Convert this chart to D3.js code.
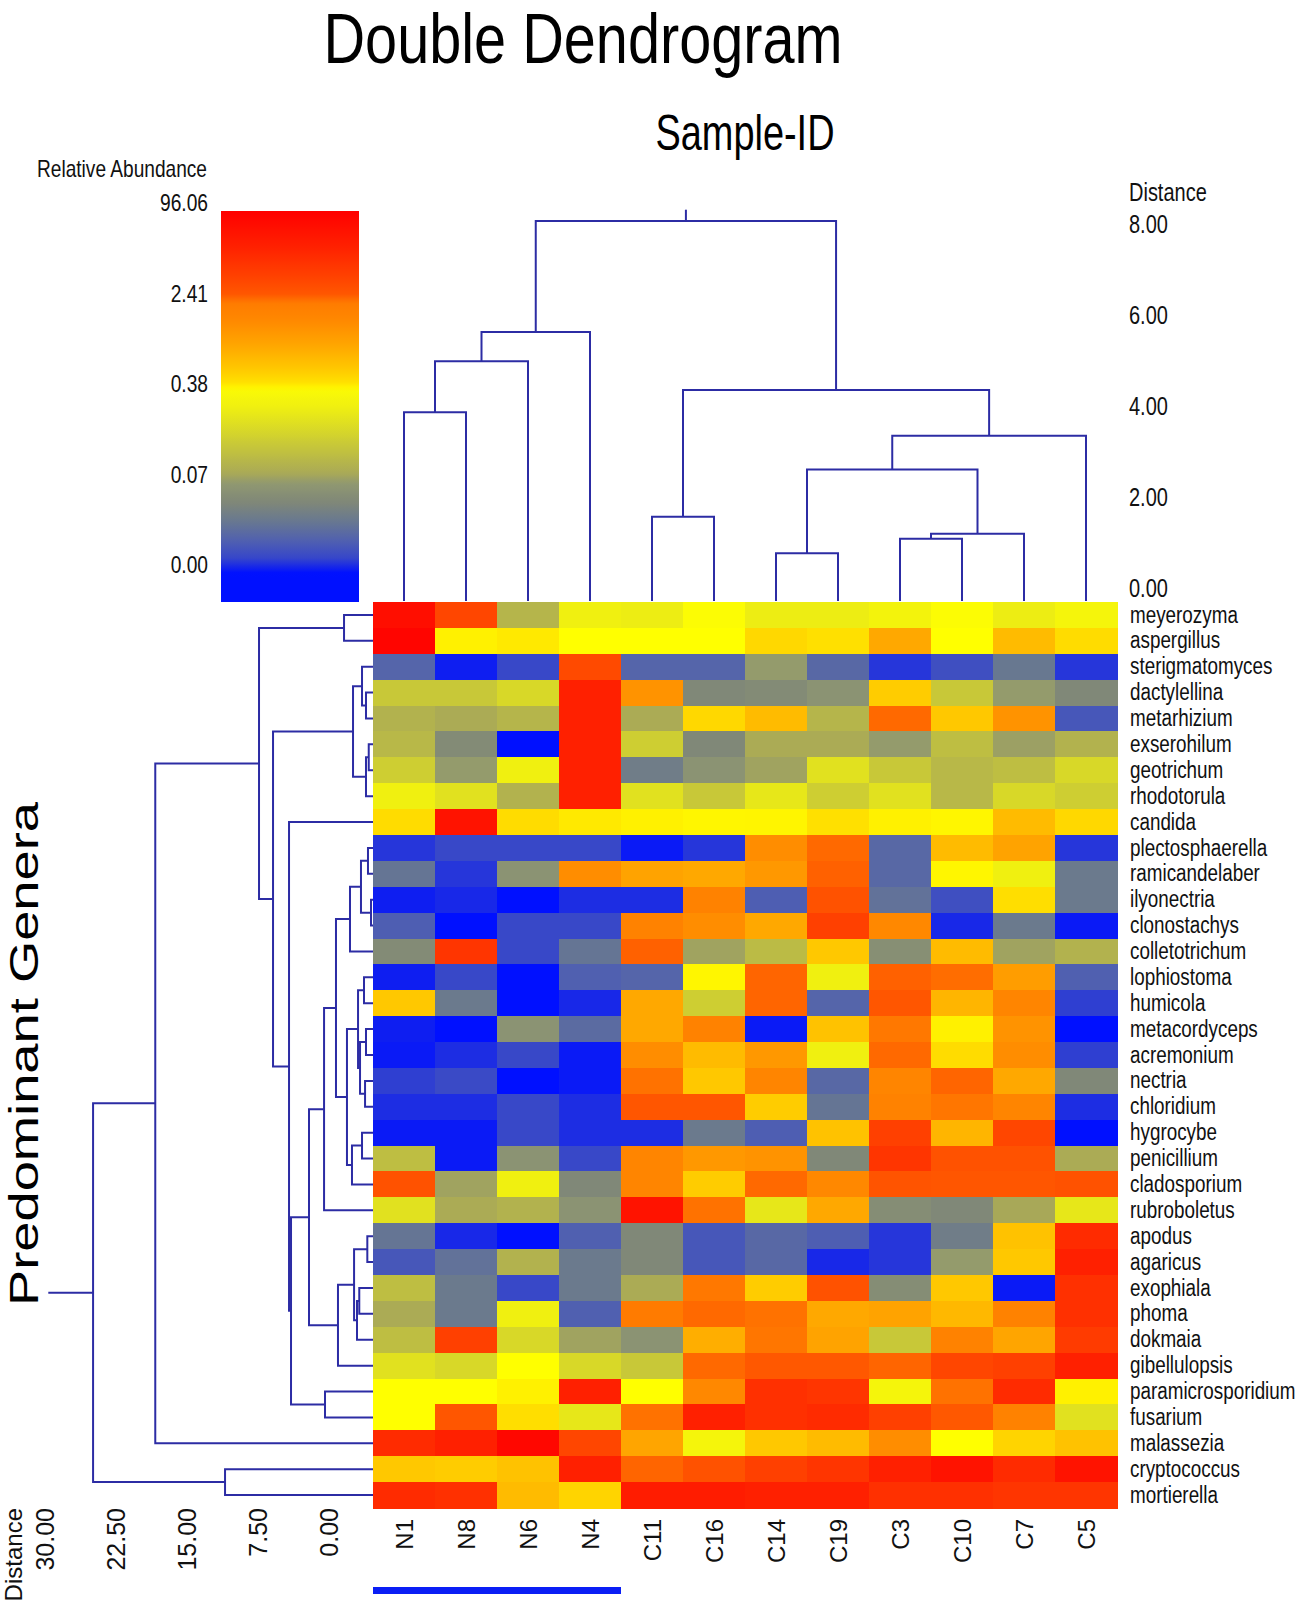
<!DOCTYPE html>
<html>
<head>
<meta charset="utf-8">
<script src="https://cdn.jsdelivr.net/npm/d3@7"></script>
<style>
  body { margin: 0; background: #fff; }
  svg { display: block; font-family: "Liberation Sans", Arial, sans-serif; }
</style>
</head>
<body>
<svg id="chart" width="1299" height="1611"></svg>
<script>
// ---------------- DATA ----------------
const samples = ["N1","N8","N6","N4","C11","C16","C14","C19","C3","C10","C7","C5"];

const genera = ["meyerozyma","aspergillus","sterigmatomyces","dactylellina","metarhizium",
  "exserohilum","geotrichum","rhodotorula","candida","plectosphaerella","ramicandelaber",
  "ilyonectria","clonostachys","colletotrichum","lophiostoma","humicola","metacordyceps",
  "acremonium","nectria","chloridium","hygrocybe","penicillium","cladosporium","rubroboletus",
  "apodus","agaricus","exophiala","phoma","dokmaia","gibellulopsis","paramicrosporidium",
  "fusarium","malassezia","cryptococcus","mortierella"];

// relative abundance (%) per genus (rows) and sample (columns, order = samples)
const abundance = [
  [80, 25, 0.14, 0.33, 0.32, 0.40, 0.32, 0.32, 0.35, 0.40, 0.32, 0.36],
  [90, 0.5, 0.55, 0.42, 0.42, 0.42, 0.7, 0.6, 1.4, 0.42, 1.1, 0.65],
  [0.028, 0.003, 0.012, 22, 0.028, 0.028, 0.075, 0.03, 0.008, 0.016, 0.04, 0.008],
  [0.2, 0.2, 0.25, 60, 1.8, 0.055, 0.058, 0.065, 0.85, 0.2, 0.075, 0.055],
  [0.13, 0.11, 0.14, 60, 0.11, 0.7, 1.1, 0.14, 6, 0.9, 1.8, 0.02],
  [0.15, 0.058, 0, 60, 0.22, 0.055, 0.11, 0.11, 0.075, 0.17, 0.085, 0.13],
  [0.22, 0.075, 0.33, 60, 0.045, 0.065, 0.09, 0.28, 0.2, 0.15, 0.17, 0.25],
  [0.33, 0.28, 0.13, 60, 0.28, 0.2, 0.3, 0.22, 0.28, 0.15, 0.25, 0.22],
  [0.65, 75, 0.65, 0.55, 0.5, 0.47, 0.48, 0.6, 0.5, 0.47, 1.1, 0.7],
  [0.008, 0.012, 0.012, 0.012, 0.002, 0.008, 1.9, 6, 0.03, 1.1, 1.5, 0.008],
  [0.038, 0.008, 0.065, 1.9, 1.5, 1.4, 1.7, 8, 0.03, 0.47, 0.33, 0.042],
  [0.003, 0.005, 0, 0.006, 0.006, 2.2, 0.024, 15, 0.036, 0.016, 0.62, 0.042],
  [0.024, 0, 0.012, 0.012, 2.2, 1.9, 1.4, 30, 2.0, 0.005, 0.042, 0.002],
  [0.058, 40, 0.012, 0.038, 8, 0.09, 0.16, 0.9, 0.062, 1.1, 0.09, 0.13],
  [0.003, 0.012, 0, 0.025, 0.028, 0.47, 7, 0.33, 8, 5, 1.6, 0.025],
  [0.9, 0.042, 0, 0.005, 1.4, 0.22, 7, 0.028, 12, 1.2, 2.1, 0.01],
  [0.003, 0, 0.065, 0.032, 1.4, 2.2, 0.002, 1.0, 2.5, 0.5, 1.8, 0],
  [0.002, 0.006, 0.012, 0.002, 1.9, 1.1, 1.7, 0.33, 6, 0.65, 1.9, 0.01],
  [0.01, 0.013, 0, 0.002, 4, 0.9, 2.1, 0.03, 2.1, 7, 1.4, 0.055],
  [0.006, 0.006, 0.012, 0.006, 12, 12, 0.85, 0.038, 2.2, 3, 2.1, 0.006],
  [0.002, 0.002, 0.012, 0.006, 0.006, 0.042, 0.024, 1.0, 30, 1.2, 25, 0],
  [0.17, 0.002, 0.065, 0.012, 2.1, 1.7, 1.8, 0.055, 40, 15, 15, 0.11],
  [15, 0.09, 0.33, 0.055, 2.1, 0.85, 6, 2.0, 13, 12, 12, 15],
  [0.28, 0.11, 0.13, 0.065, 75, 4, 0.3, 1.4, 0.06, 0.055, 0.1, 0.3],
  [0.038, 0.005, 0, 0.025, 0.055, 0.02, 0.03, 0.024, 0.008, 0.045, 1.0, 50],
  [0.02, 0.036, 0.13, 0.042, 0.055, 0.02, 0.03, 0.005, 0.008, 0.075, 0.9, 60],
  [0.17, 0.042, 0.012, 0.042, 0.11, 2.5, 0.85, 15, 0.06, 0.9, 0.002, 45],
  [0.11, 0.042, 0.33, 0.025, 2.4, 6, 4, 1.4, 1.5, 1.15, 2.2, 45],
  [0.17, 30, 0.25, 0.09, 0.065, 1.3, 3, 1.5, 0.2, 2.2, 1.45, 35],
  [0.28, 0.25, 0.42, 0.25, 0.2, 6, 10, 10, 7, 25, 30, 60],
  [0.42, 0.42, 0.5, 60, 0.42, 2.0, 45, 40, 0.36, 4, 50, 0.5],
  [0.42, 12, 0.62, 0.3, 4, 60, 45, 50, 30, 10, 2.2, 0.28],
  [50, 60, 88, 25, 1.45, 0.36, 0.9, 1.1, 1.9, 0.42, 0.75, 1.0],
  [0.9, 0.85, 1.0, 60, 7, 15, 30, 40, 60, 75, 50, 75],
  [50, 45, 1.1, 0.75, 65, 65, 60, 60, 45, 45, 40, 40]
];

// sample (column) clustering: [left, right, distance, id]
const sampleMerges = [
  ["N1","N8",4.15,"a"], ["a","N6",5.27,"b"], ["b","N4",5.91,"c"],
  ["C11","C16",1.85,"d"], ["C14","C19",1.05,"e"], ["C3","C10",1.37,"f"],
  ["f","C7",1.48,"g"], ["e","g",2.89,"h"], ["h","C5",3.63,"i"],
  ["d","i",4.64,"j"], ["c","j",8.35,"root"]
];
const sampleRootTop = 8.6;

// genus (row) clustering: [top, bottom, distance, id]
const generaMerges = [
  ["meyerozyma","aspergillus",3.06,"r1"],
  ["dactylellina","metarhizium",0.74,"r2"], ["sterigmatomyces","r2",1.16,"r3"],
  ["exserohilum","geotrichum",0.45,"r4"], ["r4","rhodotorula",0.74,"r5"], ["r3","r5",2.11,"r6"],
  ["plectosphaerella","ramicandelaber",0.53,"r7"], ["ilyonectria","clonostachys",0.21,"r8"],
  ["r7","r8",1.27,"r9"], ["r9","colletotrichum",2.43,"r10"],
  ["lophiostoma","humicola",0.95,"r11"], ["metacordyceps","acremonium",0.74,"r12"],
  ["nectria","chloridium",0.84,"r13"], ["r12","r13",1.37,"r14"], ["r11","r14",1.58,"r15"],
  ["hygrocybe","penicillium",1.16,"r16"], ["r16","cladosporium",2.22,"r17"], ["r15","r17",2.75,"r18"],
  ["r10","r18",3.91,"r19"], ["r19","rubroboletus",5.17,"r20"],
  ["apodus","agaricus",0.6,"r21"], ["exophiala","phoma",1.45,"r22"], ["r22","dokmaia",1.69,"r23"],
  ["r21","r23",2.0,"r24"], ["r24","gibellulopsis",3.70,"r25"],
  ["r20","r25",6.76,"r26"], ["paramicrosporidium","fusarium",5.07,"r27"],
  ["r26","r27",8.66,"r28"], ["candida","r28",8.87,"r29"], ["r6","r29",10.56,"r30"],
  ["r1","r30",12.04,"r31"], ["r31","malassezia",23.0,"r32"],
  ["cryptococcus","mortierella",15.63,"r33"], ["r32","r33",29.57,"r34"]
];
const generaRootEnd = 34.3;

const legendTicks = [0.00, 0.07, 0.38, 2.41, 96.06];
const sampleDistTicks = [0, 2, 4, 6, 8];
const generaDistTicks = [0, 7.5, 15, 22.5, 30];
const groupBar = ["N1","N4"];

const colorValues = [0, 0.005, 0.012, 0.025, 0.04, 0.055, 0.07, 0.1, 0.15, 0.25, 0.33, 0.42, 0.6, 0.9, 1.4, 2.0, 2.5, 10, 30, 60, 96.06];
const colorRange = ["#0010ff","#1828e8","#3848c8","#5060b0","#687890","#808878","#909870","#a8a858",
  "#b8b848","#d8d828","#f0f010","#ffff00","#ffe000","#ffc800","#ffa800","#ff8800","#ff7800",
  "#ff5800","#ff4000","#ff2000","#ff0000"];

// ---------------- CHART ----------------
const svg = d3.select("#chart");
const lineColor = "#2c2ca4";

const x = d3.scaleBand().domain(samples).range([373, 1117]);
const y = d3.scaleBand().domain(genera).range([602, 1508]);
const color = d3.scaleLinear().domain(colorValues).range(colorRange).clamp(true);
const colDist = d3.scaleLinear().domain([0, 8]).range([601, 237]);
const rowDist = d3.scaleLinear().domain([0, 30]).range([373, 89]);
const legendPos = d3.scaleLinear().domain(legendTicks).range([573, 483, 392, 302, 211]);

// heatmap
const cells = [];
genera.forEach((g, i) => samples.forEach((s, j) => cells.push({g, s, v: abundance[i][j]})));
svg.append("g").selectAll("rect").data(cells).join("rect")
  .attr("x", d => x(d.s)).attr("y", d => y(d.g))
  .attr("width", x.bandwidth() + 0.5).attr("height", y.bandwidth() + 0.5)
  .attr("fill", d => color(d.v))
  .attr("shape-rendering", "crispEdges");

// column dendrogram
const colNodes = new Map();
samples.forEach(s => colNodes.set(s, {p: x(s) + x.bandwidth() / 2, h: 0}));
sampleMerges.forEach(([a, b, h, id]) => colNodes.set(id, {p: (colNodes.get(a).p + colNodes.get(b).p) / 2, h}));
const colG = svg.append("g").attr("fill", "none").attr("stroke", lineColor).attr("stroke-width", 2);
sampleMerges.forEach(([a, b, h]) => {
  const A = colNodes.get(a), B = colNodes.get(b);
  colG.append("path").attr("d",
    `M${A.p},${colDist(A.h)}V${colDist(h)}H${B.p}V${colDist(B.h)}`);
});
const colRoot = colNodes.get("root");
colG.append("path").attr("d", `M${colRoot.p},${colDist(colRoot.h)}V${colDist(sampleRootTop)}`);

// row dendrogram
const rowNodes = new Map();
genera.forEach(g => rowNodes.set(g, {p: y(g) + y.bandwidth() / 2, h: 0}));
generaMerges.forEach(([a, b, h, id]) => rowNodes.set(id, {p: (rowNodes.get(a).p + rowNodes.get(b).p) / 2, h}));
const rowG = svg.append("g").attr("fill", "none").attr("stroke", lineColor).attr("stroke-width", 2);
generaMerges.forEach(([a, b, h]) => {
  const A = rowNodes.get(a), B = rowNodes.get(b);
  rowG.append("path").attr("d",
    `M${rowDist(A.h)},${A.p}H${rowDist(h)}V${B.p}H${rowDist(B.h)}`);
});
const rowRoot = rowNodes.get("r34");
rowG.append("path").attr("d", `M${rowDist(rowRoot.h)},${rowRoot.p}H${rowDist(generaRootEnd)}`);

// row labels
svg.append("g").selectAll("text").data(genera).join("text")
  .attr("transform", d => `translate(1130,${y(d) + y.bandwidth() / 2}) scale(0.82,1)`)
  .attr("dy", "0.33em")
  .attr("font-size", 23).attr("fill", "#111")
  .text(d => d);

// column labels
svg.append("g").selectAll("text").data(samples).join("text")
  .attr("transform", d => `translate(${x(d) + x.bandwidth() / 2},1519) rotate(-90)`)
  .attr("text-anchor", "end").attr("dy", "0.36em")
  .attr("font-size", 24).attr("fill", "#111")
  .text(d => d);

// N group bar
svg.append("rect")
  .attr("x", x(groupBar[0])).attr("y", 1587)
  .attr("width", x(groupBar[1]) + x.bandwidth() - x(groupBar[0])).attr("height", 7)
  .attr("fill", "#0a1ef5");

// column distance axis
svg.append("text").attr("transform", "translate(1129,201) scale(0.8,1)")
  .attr("font-size", 25).attr("fill", "#111").text("Distance");
svg.append("g").selectAll("text").data(sampleDistTicks).join("text")
  .attr("transform", d => `translate(1129,${colDist(d) - 4}) scale(0.8,1)`)
  .attr("font-size", 25).attr("fill", "#111")
  .text(d => d.toFixed(2));

// row distance axis
svg.append("g").selectAll("text").data(generaDistTicks).join("text")
  .attr("transform", d => `translate(${rowDist(d) - 44},1508) rotate(-90)`)
  .attr("text-anchor", "end").attr("dy", "0.36em")
  .attr("font-size", 25).attr("fill", "#111")
  .text(d => d.toFixed(2));
svg.append("text").attr("transform", "translate(13,1508) rotate(-90)")
  .attr("text-anchor", "end").attr("dy", "0.36em")
  .attr("font-size", 24).attr("fill", "#111").text("Distance");

// legend
const defs = svg.append("defs");
const grad = defs.append("linearGradient").attr("id", "legendGrad")
  .attr("x1", 0).attr("y1", 0).attr("x2", 0).attr("y2", 1);
const lgTop = 211, lgBot = 602;
d3.range(0, 81).forEach(k => {
  const yy = lgTop + (lgBot - lgTop) * k / 80;
  const v = legendPos.invert(Math.min(Math.max(yy, 211), 573));
  grad.append("stop").attr("offset", (k / 80 * 100) + "%").attr("stop-color", color(v));
});
svg.append("rect").attr("x", 221).attr("y", lgTop).attr("width", 138).attr("height", lgBot - lgTop)
  .attr("fill", "url(#legendGrad)");
svg.append("g").selectAll("text").data(legendTicks).join("text")
  .attr("transform", d => `translate(208,${legendPos(d)}) scale(0.8,1)`)
  .attr("text-anchor", "end")
  .attr("font-size", 24).attr("fill", "#111")
  .text(d => d.toFixed(2));
svg.append("text").attr("x", 37).attr("y", 177)
  .attr("font-size", 24).attr("textLength", 170).attr("lengthAdjust", "spacingAndGlyphs")
  .attr("fill", "#111").text("Relative Abundance");

// titles
svg.append("text").attr("x", 583).attr("y", 63).attr("text-anchor", "middle")
  .attr("font-size", 70).attr("textLength", 519).attr("lengthAdjust", "spacingAndGlyphs")
  .attr("fill", "#000").text("Double Dendrogram");
svg.append("text").attr("x", 745).attr("y", 150).attr("text-anchor", "middle")
  .attr("font-size", 50).attr("textLength", 179).attr("lengthAdjust", "spacingAndGlyphs")
  .attr("fill", "#000").text("Sample-ID");
svg.append("text").attr("transform", "translate(24,1054) rotate(-90)")
  .attr("text-anchor", "middle").attr("dy", "0.36em")
  .attr("font-size", 40).attr("textLength", 504).attr("lengthAdjust", "spacingAndGlyphs")
  .attr("fill", "#000").text("Predominant Genera");
</script>
</body>
</html>
